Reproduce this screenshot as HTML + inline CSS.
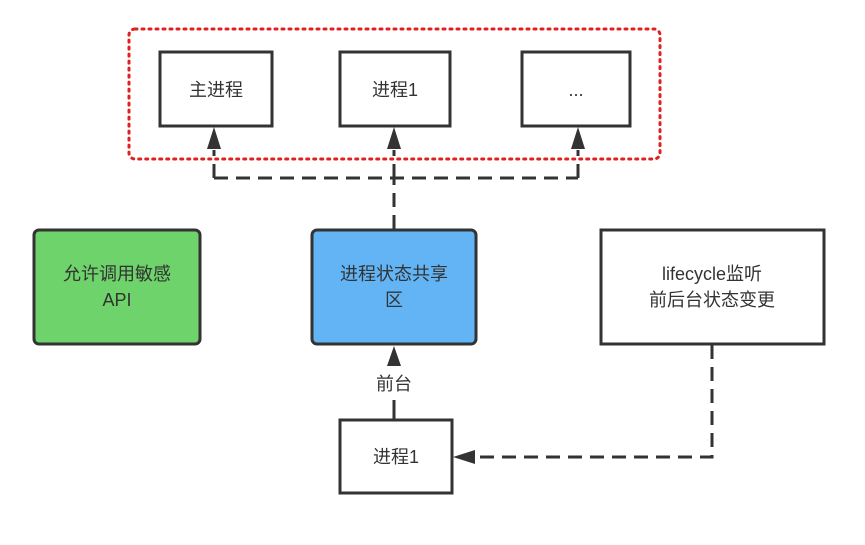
<!DOCTYPE html>
<html><head><meta charset="utf-8"><style>
body{margin:0;background:#fff}
text{font-family:"Liberation Sans","Noto Sans CJK SC",sans-serif;font-size:18px;fill:#333}
</style></head><body>
<svg width="865" height="540" viewBox="0 0 865 540" xmlns="http://www.w3.org/2000/svg">
<defs><marker id="a" markerWidth="10" markerHeight="10" refX="9" refY="5" orient="auto" markerUnits="userSpaceOnUse" viewBox="0 0 10 10"><path d="M0,0 L10,5 L0,10z" fill="#333"/></marker>
<marker id="b" markerWidth="14" markerHeight="20" refX="20" refY="7" orient="auto" markerUnits="userSpaceOnUse" viewBox="0 0 20 14"><path d="M0,0 L20,7 L0,14z" fill="#333"/></marker></defs>
<rect x="129" y="29" width="531" height="130" rx="6" fill="none" stroke="#e02020" stroke-width="3" stroke-dasharray="2,5" stroke-linecap="round"/>
<g stroke="#333" stroke-width="3" fill="#fff">
<rect x="160" y="52" width="112" height="74"/>
<rect x="340" y="52" width="110" height="74"/>
<rect x="522" y="52" width="108" height="74"/>
<rect x="34" y="230" width="166" height="114" rx="5" fill="#6dd36a"/>
<rect x="312" y="230" width="164" height="114" rx="5" fill="#62b4f5"/>
<rect x="601" y="230" width="223" height="114"/>
<rect x="340" y="420" width="112" height="73"/>
</g>
<g stroke="#333" stroke-width="3" fill="none" stroke-dasharray="14,8">
<path d="M214,178 H578"/>
<path d="M394,229 V178"/>
<path d="M214,178 V150"/><path d="M394,178 V150"/><path d="M578,178 V150"/>
<path d="M712,345 V457 H475"/>
</g>
<g fill="#333">
<path d="M214,127 l-7,22 h14z"/><path d="M394,127 l-7,22 h14z"/><path d="M578,127 l-7,22 h14z"/>
<path d="M394,346 l-7,20 h14z"/>
<path d="M453,457 l22,-7 v14z"/>
</g>
<path d="M394,420 V400" stroke="#333" stroke-width="3"/>
<text x="216" y="96" text-anchor="middle">主进程</text>
<text x="395" y="96" text-anchor="middle">进程1</text>
<text x="576" y="96" text-anchor="middle">...</text>
<text x="117" y="280" text-anchor="middle">允许调用敏感</text>
<text x="117" y="306" text-anchor="middle">API</text>
<text x="394" y="280" text-anchor="middle">进程状态共享</text>
<text x="394" y="306" text-anchor="middle">区</text>
<text x="712" y="280" text-anchor="middle">lifecycle监听</text>
<text x="712" y="306" text-anchor="middle">前后台状态变更</text>
<text x="394" y="390" text-anchor="middle">前台</text>
<text x="396" y="463" text-anchor="middle">进程1</text>
</svg>
</body></html>
